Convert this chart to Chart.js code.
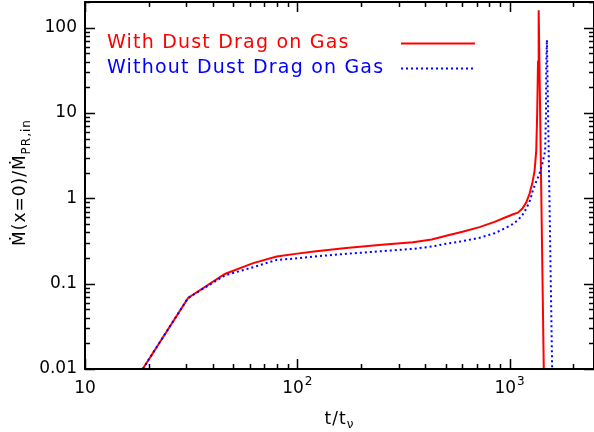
<!DOCTYPE html>
<html>
<head>
<meta charset="utf-8">
<script src="https://cdn.jsdelivr.net/npm/chart.js@4"></script>
<style>
  html, body { margin: 0; padding: 0; background: #fff; }
  canvas { display: block; }
</style>
</head>
<body>
<canvas id="mdot" width="594" height="432"></canvas>
<script>
"use strict";
// accretion rate at x=0 vs time, with and without dust drag on the gas
var tDrag    = [18.7, 30.6, 45.6, 62, 80, 100, 120, 170, 250, 351, 430, 503, 600, 722, 850, 960, 1040, 1094, 1150, 1200, 1242, 1280, 1312, 1336, 1350, 1362, 1372, 1450];
var mdotDrag = [0.01, 0.068, 0.13, 0.174, 0.208, 0.225, 0.238, 0.262, 0.285, 0.305, 0.33, 0.365, 0.405, 0.46, 0.53, 0.60, 0.65, 0.68, 0.76, 0.90, 1.13, 1.5, 2.1, 3.6, 10, 40, 160, 0.01];

var tNoDrag    = [18.7, 30.6, 45.6, 62, 80, 100, 120, 170, 250, 351, 430, 503, 600, 722, 850, 960, 1037, 1100, 1150, 1200, 1250, 1288, 1340, 1384, 1430, 1472, 1485, 1490, 1500, 1588];
var mdotNoDrag = [0.01, 0.068, 0.125, 0.156, 0.19, 0.198, 0.208, 0.224, 0.24, 0.256, 0.272, 0.294, 0.315, 0.345, 0.39, 0.45, 0.50, 0.56, 0.64, 0.76, 0.95, 1.24, 1.6, 1.94, 2.6, 3.6, 10, 40, 72, 0.01];

// x labels as base + exponent, drawn with a raised exponent
var xTickValues = [10, 100, 1000];
var xTickExps   = ["", "2", "3"];
var yTickLabels = { 0.01: "0.01", 0.1: "0.1", 1: "1", 10: "10", 100: "100" };

var FONT = '"DejaVu Sans", sans-serif';

function pts(xs, ys) {
    return xs.map(function (v, i) { return { x: v, y: ys[i] }; });
}

// keep the plot box fixed, no extra room for edge labels
function noPad(s) {
    s.paddingTop = 0;
    s.paddingBottom = 0;
    s.paddingLeft = 0;
    s.paddingRight = 0;
}

// inward ticks on all four sides plus the box
var frameTicks = {
    id: "frameTicks",
    afterDraw: function (chart) {
        var ctx = chart.ctx, a = chart.chartArea;
        var xs = chart.scales.x, ys = chart.scales.y;
        ctx.save();
        ctx.strokeStyle = "#000";
        ctx.lineWidth = 1.5;
        ctx.beginPath();
        for (var d = 10; d <= 1000; d *= 10) {
            for (var k = 1; k < 10; k++) {
                var v = k * d;
                if (v < xs.min || v > xs.max) continue;
                var len = k === 1 ? 10 : 5;
                var px = Math.round(xs.getPixelForValue(v)) + 0.5;
                ctx.moveTo(px, a.bottom); ctx.lineTo(px, a.bottom - len);
                ctx.moveTo(px, a.top); ctx.lineTo(px, a.top + len);
            }
        }
        for (var e = 0.01; e <= 100; e *= 10) {
            for (var j = 1; j < 10; j++) {
                var w = j * e;
                if (w < ys.min * 0.999 || w > ys.max) continue;
                var l2 = j === 1 ? 10 : 5;
                var py = Math.round(ys.getPixelForValue(w)) + 0.5;
                ctx.moveTo(a.left, py); ctx.lineTo(a.left + l2, py);
                ctx.moveTo(a.right, py); ctx.lineTo(a.right - l2, py);
            }
        }
        ctx.stroke();
        ctx.lineWidth = 2;
        ctx.strokeRect(a.left, a.top, a.right - a.left, a.bottom - a.top);

        // x tick labels: 10, 10^2, 10^3
        ctx.fillStyle = "#000";
        ctx.textBaseline = "alphabetic";
        xTickValues.forEach(function (val, i) {
            ctx.font = "17px " + FONT;
            var bw = ctx.measureText("10").width;
            ctx.font = "12px " + FONT;
            var ew = xTickExps[i] ? ctx.measureText(xTickExps[i]).width + 1 : 0;
            var lx = xs.getPixelForValue(val) - (bw + ew) / 2;
            ctx.font = "17px " + FONT;
            ctx.fillText("10", lx, 393);
            if (xTickExps[i]) {
                ctx.font = "12px " + FONT;
                ctx.fillText(xTickExps[i], lx + bw + 1, 385);
            }
        });

        // legend
        ctx.letterSpacing = "1.2px";
        ctx.font = "19px " + FONT;
        chart.data.datasets.forEach(function (ds, i) {
            var yy = 48 + i * 25;
            ctx.fillStyle = ds.borderColor;
            ctx.fillText(ds.label, 107, yy);
            ctx.strokeStyle = ds.borderColor;
            ctx.lineWidth = 2;
            ctx.setLineDash(ds.borderDash || []);
            ctx.beginPath();
            ctx.moveTo(401, yy - 4.5);
            ctx.lineTo(475, yy - 4.5);
            ctx.stroke();
        });
        ctx.setLineDash([]);

        // axis titles
        ctx.fillStyle = "#000";
        ctx.letterSpacing = "1px";
        ctx.font = "17px " + FONT;
        var main = "\u1e40(x=0)/\u1e40";
        var sub = "PR,in";
        var mw = ctx.measureText(main).width;
        ctx.font = "12px " + FONT;
        var sw = ctx.measureText(sub).width;
        ctx.save();
        ctx.translate(25, (a.top + a.bottom) / 2 - 3);
        ctx.rotate(-Math.PI / 2);
        ctx.font = "17px " + FONT;
        ctx.fillText(main, -(mw + sw) / 2, 0);
        ctx.font = "12px " + FONT;
        ctx.fillText(sub, -(mw + sw) / 2 + mw, 5);
        ctx.restore();

        ctx.font = "17px " + FONT;
        var tm = "t/t";
        var tw = ctx.measureText(tm).width;
        ctx.font = "12px " + FONT;
        var nw = ctx.measureText("\u03bd").width;
        var x0 = (a.left + a.right) / 2 - (tw + nw) / 2;
        ctx.font = "17px " + FONT;
        ctx.fillText(tm, x0, 424);
        ctx.font = "12px " + FONT;
        ctx.fillText("\u03bd", x0 + tw, 428);
        ctx.restore();
    }
};

var ctx = document.getElementById("mdot").getContext("2d");
var chart = new Chart(ctx, {
    type: "line",
    data: {
        datasets: [
            {
                label: "With Dust Drag on Gas",
                data: pts(tDrag, mdotDrag),
                borderColor: "#ff0000",
                borderWidth: 2,
                pointRadius: 0,
                tension: 0,
                order: 1,
            },
            {
                label: "Without Dust Drag on Gas",
                data: pts(tNoDrag, mdotNoDrag),
                borderColor: "#0000ff",
                borderWidth: 2,
                borderDash: [2, 3],
                pointRadius: 0,
                tension: 0,
                order: 0,
            },
        ],
    },
    options: {
        responsive: false,
        animation: false,
        devicePixelRatio: 1,
        layout: { padding: { top: 2, right: 0, left: 0, bottom: 0 } },
        plugins: { legend: { display: false }, tooltip: { enabled: false } },
        scales: {
            x: {
                type: "logarithmic",
                min: 10,
                max: 2500,
                grid: { display: false, drawTicks: false },
                border: { display: false },
                ticks: {
                    autoSkip: false,
                    maxRotation: 0,
                    callback: function () { return ""; },
                },
                afterFit: function (s) { s.height = 63; noPad(s); },
            },
            y: {
                type: "logarithmic",
                min: 0.01,
                max: 200,
                grid: { display: false, drawTicks: false },
                border: { display: false },
                ticks: {
                    autoSkip: false,
                    padding: 8,
                    color: "#000",
                    font: { family: FONT, size: 17 },
                    callback: function (v) { return yTickLabels[v] || ""; },
                },
                afterFit: function (s) { s.width = 85; noPad(s); },
            },
        },
    },
    plugins: [frameTicks],
});
</script>
</body>
</html>
